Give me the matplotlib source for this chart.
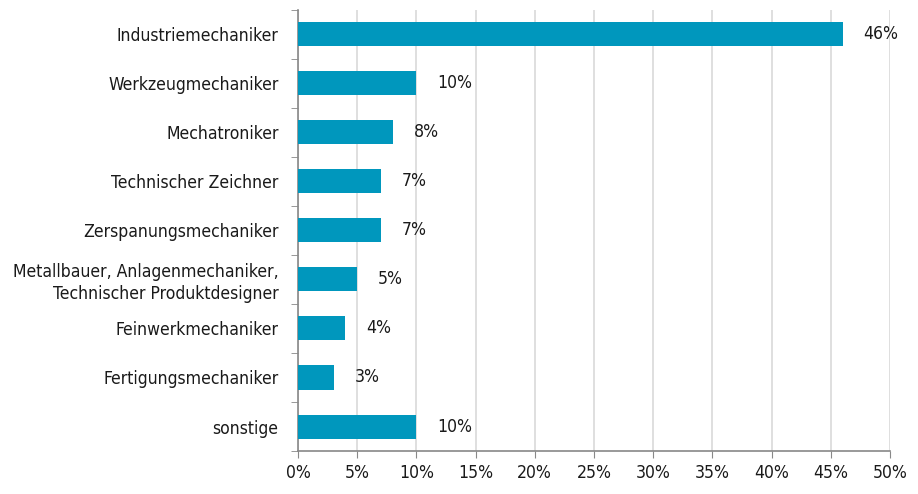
import numpy as np
import matplotlib.pyplot as plt
from matplotlib.ticker import FixedLocator, PercentFormatter

plt.rcParams['font.family'] = ['DejaVu Sans']
plt.rcParams['font.stretch'] = 'condensed'

categories = ['Industriemechaniker', 'Werkzeugmechaniker', 'Mechatroniker',
              'Technischer Zeichner', 'Zerspanungsmechaniker',
              'Metallbauer, Anlagenmechaniker,\nTechnischer Produktdesigner',
              'Feinwerkmechaniker', 'Fertigungsmechaniker', 'sonstige']
values = [46, 10, 8, 7, 7, 5, 4, 3, 10]
xticks = [0, 5, 10, 15, 20, 25, 30, 35, 40, 45, 50]

bar_color = '#0097BD'
axis_color = '#888888'
fs = 12.6

fig = plt.figure(figsize=(9.18, 4.94), dpi=100)
ax = fig.add_axes([0.3246, 0.087, 0.6449, 0.893])

y = np.arange(len(categories))
ax.barh(y, values, height=0.49, color=bar_color, zorder=3)
ax.set_ylim(len(categories) - 0.5, -0.5)
ax.set_xlim(0, 50)

for yi, v in zip(y, values):
    ax.annotate('{0}%'.format(v), (v, yi), xytext=(15, 0), textcoords='offset points',
                ha='left', va='center', fontsize=fs, color='#1a1a1a')

ax.set_xticks(xticks)
ax.xaxis.set_major_formatter(PercentFormatter(decimals=0))
ax.set_yticks(y)
ax.set_yticklabels(categories, linespacing=1.25)
ax.yaxis.set_minor_locator(FixedLocator(np.arange(-0.5, len(categories), 1)))
ax.tick_params(axis='y', which='major', length=0, pad=14, labelsize=fs, labelcolor='#1a1a1a')
ax.tick_params(axis='y', which='minor', length=5, color=axis_color, direction='out')
ax.tick_params(axis='x', length=5, color=axis_color, labelsize=fs, labelcolor='#1a1a1a', pad=4)
for lab in ax.get_yticklabels():
    lab.set_horizontalalignment('right')
    lab.set_multialignment('right')

ax.grid(axis='x', color='#d9d9d9', linewidth=1.2, zorder=0)
for s in ['top', 'right']:
    ax.spines[s].set_visible(False)
for s in ['left', 'bottom']:
    ax.spines[s].set_color(axis_color)
    ax.spines[s].set_linewidth(1.2)

fig.savefig('out.png', dpi=100)
